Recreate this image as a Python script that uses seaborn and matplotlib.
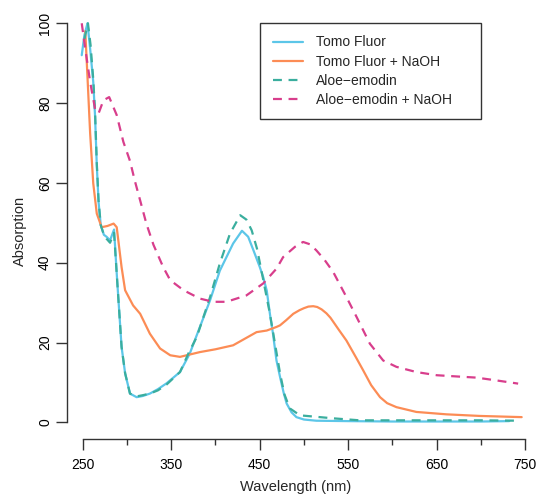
import matplotlib
matplotlib.use("Agg")
import matplotlib.pyplot as plt
import seaborn as sns
import numpy as np

# ---- data ----
series_names = ["Tomo Fluor", "Tomo Fluor + NaOH", "Aloe\u2212emodin", "Aloe\u2212emodin + NaOH"]

wl_tomo = [249, 252, 255.5, 258.5, 262, 264, 266, 268, 270.5, 274, 277, 281, 285.5, 289, 294,
           298, 303.5, 311, 318, 326, 335, 345, 360, 371, 382.5, 394, 405, 420, 430, 437, 443, 450,
           454, 458, 462, 465, 469, 473, 477, 480.5, 486, 491.5, 500, 514, 550, 600, 650, 700, 732]
abs_tomo = [92, 97, 100, 93.6, 85.3, 77, 64.4, 55.2, 49.4, 47, 46.5, 45.6, 48.3, 35.6, 18.9,
            12.3, 7.2, 6.3, 6.6, 7.2, 8.3, 9.8, 12.6, 17.2, 23.9, 30.6, 38, 44.8, 48, 46.5, 43.1, 39,
            36.4, 33.0, 26.5, 22.3, 15.5, 11.4, 7.5, 4.7, 2.5, 1.3, 0.7, 0.4, 0.3, 0.2, 0.2, 0.2, 0.3]

wl_tomo_naoh = [253, 255.5, 258.5, 262, 266, 271.5, 278, 285, 288.5, 294, 298, 307, 315, 326,
                337.5, 349, 360, 382.5, 400, 420, 446.5, 458, 469, 473, 480, 488, 495, 500, 505,
                510.5, 515, 520, 525.5, 530, 540, 548, 559.5, 567, 576, 586, 594, 604.5, 627, 661,
                698.5, 746]
abs_tomo_naoh = [98, 86.5, 72.4, 59.9, 52.3, 48.9, 49.2, 49.8, 48.9, 38.9, 33.1, 29.3, 27.2, 22.2,
                 18.5, 16.8, 16.4, 17.6, 18.3, 19.3, 22.6, 23, 23.9, 24.3, 25.6, 27.2, 28.1, 28.6,
                 29.0, 29.1, 28.9, 28.3, 27.3, 26.2, 23, 20.5, 16, 13, 9.3, 6.3, 4.8, 3.8, 2.6, 2.0,
                 1.6, 1.3]

wl_aloe = [252, 256, 259, 262, 264, 266, 268, 270.5, 274, 277, 281, 285.5, 289, 294, 298, 303.5,
           311, 318, 326, 335, 345, 360, 370, 379, 394, 405, 416.5, 428, 435, 441, 447, 452, 461.5,
           473, 478, 484, 495.5, 533, 563, 600, 650, 700, 744]
abs_aloe = [96, 100, 94.5, 86, 78, 65, 55.5, 49.4, 47, 46, 45, 47.5, 35.6, 18.9, 12.3, 7.2,
            6.5, 6.8, 7.2, 8.0, 9.5, 12.6, 17.5, 21.4, 31.4, 39.8, 47.3, 51.9, 50.8, 48.1, 43.5, 38,
            27.3, 12.3, 7.0, 3.5, 1.75, 1.0, 0.5, 0.5, 0.5, 0.5, 0.4]

wl_aloe_naoh = [249, 253, 258.5, 264, 268, 273.5, 280, 288.5, 296, 303.5, 309, 315, 322, 330, 341,
                349, 364, 382.5, 397.5, 412.5, 435, 454, 469, 476.5, 490, 499, 507, 514, 523, 533,
                548, 559.5, 574.5, 589.5, 604.5, 627, 650, 672, 695, 717.5, 742]
abs_aloe_naoh = [100, 93.6, 85.3, 78.6, 77.4, 80.7, 81.5, 77, 70.3, 65.5, 60.5, 55.6, 49.8, 44.5,
                 38.9, 35.6, 33.1, 31, 30.2, 30.2, 31.8, 34.8, 38.5, 41.4, 44, 45.2, 44.6, 43.1,
                 40.8, 37.7, 31.4, 26.4, 19.7, 15.5, 13.9, 12.6, 11.8, 11.5, 11.2, 10.5, 9.7]

x_major = [250, 350, 450, 550, 650, 750]
x_minor = [300, 400, 500, 600, 700]
y_ticks = [0, 20, 40, 60, 80, 100]

colors = ["#5CC6E8", "#FC8C55", "#3AAE9E", "#D83E8C"]
dashed = (0, (4, 3))
styles = ["-", "-", dashed, dashed]
data = [(wl_tomo, abs_tomo), (wl_tomo_naoh, abs_tomo_naoh), (wl_aloe, abs_aloe), (wl_aloe_naoh, abs_aloe_naoh)]

# ---- plot ----
sns.set_style("white")
plt.rcParams["font.family"] = ["Liberation Sans", "DejaVu Sans"]

fig = plt.figure(figsize=(5.4, 4.94), dpi=100)
ax = fig.add_axes([0.1235, 0.1107, 0.877, 0.8745])

for name, (x, y), c, ls in zip(series_names, data, colors, styles):
    sns.lineplot(x=x, y=y, ax=ax, color=c, linestyle=ls, linewidth=1.6, label=name,
                 estimator=None, sort=False)

ax.set_xlim(232, 767)
ax.set_ylim(-4.26, 104)
for s in ["top", "right"]:
    ax.spines[s].set_visible(False)
for s in ["left", "bottom"]:
    ax.spines[s].set_color("#333333")
    ax.spines[s].set_linewidth(1.0)
ax.spines["left"].set_bounds(0, 100)
ax.spines["bottom"].set_bounds(250, 750)

ax.set_xticks(x_major)
ax.set_xticks(x_minor, minor=True)
ax.set_yticks(y_ticks)
ax.tick_params(axis="both", which="major", direction="out", length=8, width=1,
               color="#333333", labelsize=10, labelcolor="black", bottom=True, left=True)
ax.tick_params(axis="x", which="minor", direction="out", length=4, width=1,
               color="#333333", bottom=True)
ax.tick_params(axis="x", pad=5.5)
ax.tick_params(axis="y", pad=2.5)
plt.setp(ax.get_yticklabels(), rotation=90, va="center")

ax.set_xlabel("Wavelength (nm)", fontsize=10.5)
ax.set_ylabel("Absorption", fontsize=10.5)
ax.xaxis.label.set_va("center")
ax.yaxis.label.set_va("center")
ax.xaxis.set_label_coords(0.484, -0.1097)
ax.yaxis.set_label_coords(-0.0986, 0.482)

leg = ax.legend(loc="upper left",
                bbox_to_anchor=(260 / 540, (494 - 117) / 494, 221 / 540, 94 / 494),
                bbox_transform=fig.transFigure, mode="expand", borderaxespad=0,
                frameon=True, fancybox=False, edgecolor="#333333", framealpha=1,
                fontsize=10, handlelength=2.2, handletextpad=0.95, labelspacing=0.37,
                borderpad=0.9)
leg.get_frame().set_linewidth(1.0)

fig.savefig("out.png", dpi=100, facecolor="white")
